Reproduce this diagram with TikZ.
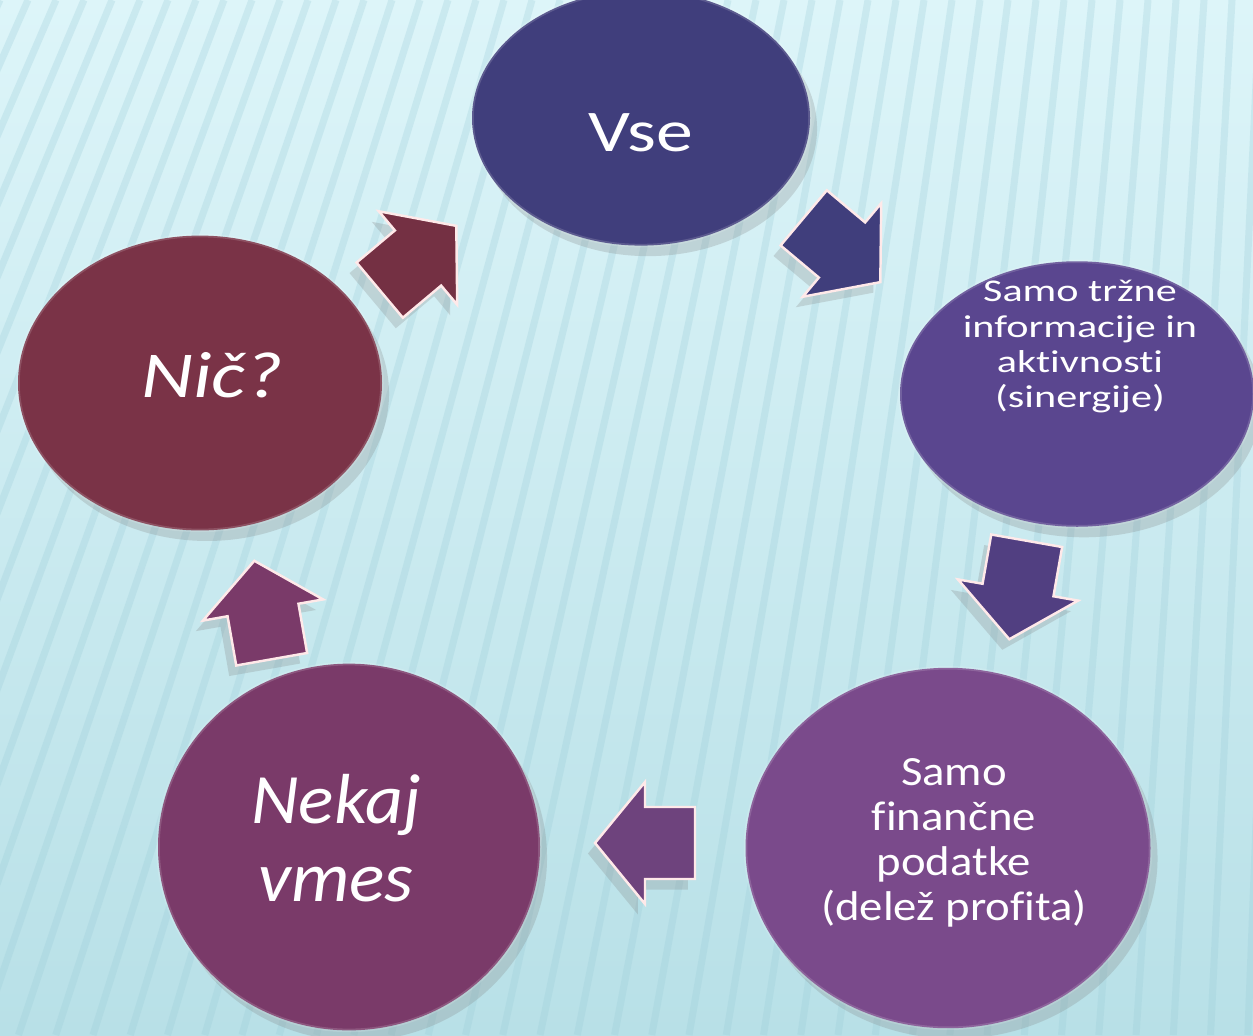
\documentclass[tikz,border=0pt]{standalone}
\usepackage{fontspec}
\setmainfont{Carlito}[Ligatures=CommonOff]
\usepackage{tikz}
\usetikzlibrary{
	shadows
}
\definecolor{bgtop}{HTML}{DDF5F9}
\definecolor{bgbot}{HTML}{B8E0E7}
\definecolor{stripecol}{HTML}{9ACCD8}
\definecolor{vsecol}{HTML}{403E7C}
\definecolor{trgcol}{HTML}{5A468F}
\definecolor{fincol}{HTML}{7A4A8B}
\definecolor{vmescol}{HTML}{7A3A69}
\definecolor{niccol}{HTML}{7A3347}

\tikzset{
	turnarrow/.pic={
		\path[pic actions, draw=pink!35, line width=0.7pt,
		drop shadow={shadow xshift=-2pt, shadow yshift=-3pt, opacity=0.25}]
		(-0.5,-0.36) -- (0,-0.36) -- (0,-0.61) -- (0.5,0)
		-- (0,0.61) -- (0,0.36) -- (-0.5,0.36) -- cycle;
	}
}

\begin{document}
\begin{tikzpicture}[
		bubble/.style={circle, inner sep=0pt, minimum size=#1,
			draw=white, draw opacity=0.15, line width=1pt,
			drop shadow={shadow xshift=2pt, shadow yshift=-3pt, opacity=0.25}},
		bubbletext/.style={text=white, align=center, inner sep=0pt}
	]
		
		% background with stripes
		\useasboundingbox (0,0) rectangle (12.53,10.35);
		\shade[top color=bgtop, bottom color=bgbot] (0,0) rectangle (12.53,10.35);
		\begin{scope}
			\clip (0,0) rectangle (12.53,10.35);
			\foreach \t in {0,0.28,...,13.2} {
				\pgfmathsetmacro\slant{-0.45+0.4*\t/12.53}
				\draw[stripecol, line width=2pt, opacity=0.28]
				(\t,10.35) -- ++({\slant*10.35},-10.35);
			}
		\end{scope}
		
		% circles
		\node[bubble=3.38cm, yscale=0.755, fill=vsecol] (vse) at (6.41,9.17) {};
		\node[bubble=3.54cm, yscale=0.75, fill=trgcol] (trg) at (10.77,6.41) {};
		\node[bubble=4.05cm, yscale=0.89, fill=fincol] (fin) at (9.48,1.87) {};
		\node[bubble=3.82cm, yscale=0.96, fill=vmescol] (vmes) at (3.49,1.88) {};
		\node[bubble=3.64cm, yscale=0.81, fill=niccol] (nic) at (2.00,6.52) {};
		
		% texts
		\node[bubbletext, yscale=0.8, font=\fontsize{21}{24}\selectfont]
		(vse-t) at (6.41,9.02) {Vse};
		\node[bubbletext, yscale=0.75, font=\fontsize{12}{13.4}\selectfont]
		(trg-t) at (10.80,6.88) {Samo tržne\\informacije in\\aktivnosti\\(sinergije)};
		\node[bubbletext, yscale=0.89, font=\fontsize{13.3}{14.4}\selectfont]
		(fin-t) at (9.54,1.92) {Samo\\finančne\\podatke\\(delež profita)};
		\node[bubbletext, yscale=0.96, font=\fontsize{21}{23}\selectfont\itshape]
		(vmes-t) at (3.36,1.97) {Nekaj\\vmes};
		\node[bubbletext, yscale=0.81, font=\fontsize{23}{25}\selectfont\itshape]
		(nic-t) at (2.12,6.60) {Nič?};
		
		% arrows
		\pic[fill=niccol!95!black, rotate=40] (nic-vse) at (4.18,7.77) {turnarrow};
		\pic[fill=vsecol, rotate=-40] (vse-trg) at (8.42,7.85) {turnarrow};
		\pic[fill=trgcol!90!black, rotate=-100] (trg-fin) at (10.18,4.45) {turnarrow};
		\pic[fill=fincol!90!black, rotate=180] (fin-vmes) at (6.45,1.92) {turnarrow};
		\pic[fill=vmescol, rotate=100] (vmes-nic) at (2.63,4.25) {turnarrow};
		
	\end{tikzpicture}
\end{document}
